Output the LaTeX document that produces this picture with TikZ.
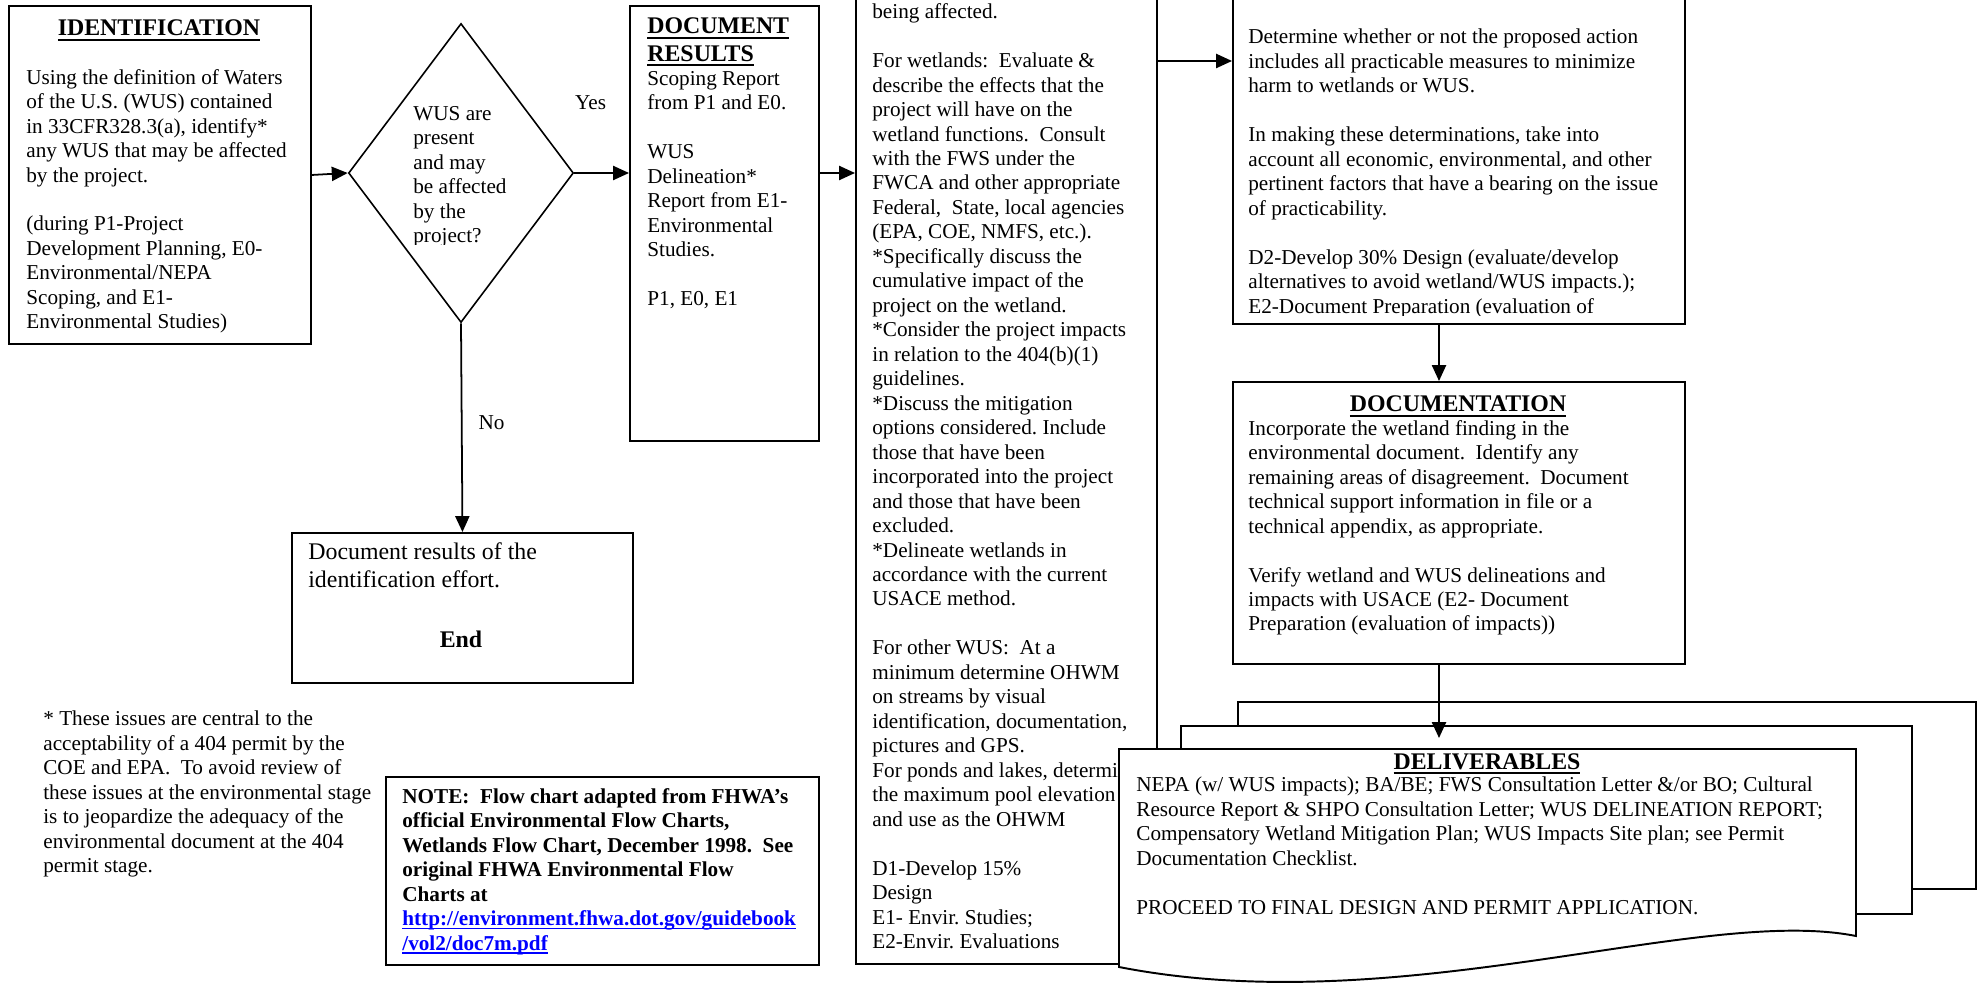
\documentclass[tikz,border=0pt]{standalone}
\usepackage{fontspec}
\setmainfont{Liberation Serif}
\usetikzlibrary{arrows.meta,shapes.geometric,positioning}
\definecolor{linkblue}{HTML}{0000FF}
\newcommand{\px}{0.566pt}
\newcommand{\hdline}[1]{\setbox0\hbox{#1}\leavevmode\rlap{\rule[-2.6pt]{\wd0}{1.1pt}}\box0}
\newcommand{\linkline}[1]{\setbox0\hbox{#1}\leavevmode\rlap{\rule[-2.2pt]{\wd0}{0.8pt}}\box0}

\begin{document}
\frenchspacing
\begin{tikzpicture}[
  x=\px,y=-\px,
  >={Triangle[length=9pt,width=8pt]},
  box/.style={draw,line width=1.1pt,fill=white,inner sep=0pt},
  sized/.style 2 args={minimum width=#1*\px,minimum height=#2*\px},
  txt/.style={align=left,inner sep=0pt,anchor=north west,execute at begin node=\strut,font=\fontsize{12}{13.85}\selectfont},
  bigtxt/.style={txt,font=\fontsize{13.5}{15.5}\selectfont},
  lbl/.style={inner sep=0pt,anchor=base west,font=\fontsize{12}{13.85}\selectfont},
  head/.style={inner sep=0pt,anchor=base,font=\fontsize{13.5}{15.5}\selectfont\bfseries},
  flow/.style={->,line width=1pt}
]
  \useasboundingbox (0,0) rectangle (1977,983);
  \clip (0,0) rectangle (1977,983);

  \node[box,sized={302}{338},anchor=north west] (ident) at (8,5) {};
  \node[head] (identhead) at (159,36) {\hdline{IDENTIFICATION}};
  \node[txt] (identtext) at (26,68.9) {Using the definition of Waters\\of the U.S. (WUS) contained\\in 33CFR328.3(a), identify*\\any WUS that may be affected\\by the project.\\[13.85pt](during P1-Project\\Development Planning, E0-\\Environmental/NEPA\\Scoping, and E1-\\Environmental Studies)};

  \node[draw,diamond,line width=0.9pt,inner sep=0pt,sized={225}{299}] (wus) at (461,173) {};
  \begin{scope}
    \clip (405,95) rectangle (570,245);
    \node[txt] (wustext) at (413,105.9) {WUS are\\present\\and may\\be affected\\by the\\project?};
  \end{scope}

  \node[box,sized={189}{435},anchor=north west] (docres) at (629,5) {};
  \node[txt,font=\fontsize{13.5}{15.5}\selectfont\bfseries] (docreshead) at (647,17.8) {\hdline{DOCUMENT}\\\hdline{RESULTS}};
  \node[txt] (docrestext) at (647,70.9) {Scoping Report\\from P1 and E0.\\[13.85pt]WUS\\Delineation*\\Report from E1-\\Environmental\\Studies.\\[13.85pt]P1, E0, E1};

  \node[box,sized={301}{1013},anchor=north west] (mid) at (855,-50) {};
  \node[txt] (midtext) at (872,3.4) {being affected.\\[13.85pt]For wetlands:~ Evaluate \&\\describe the effects that the\\project will have on the\\wetland functions.~ Consult\\with the FWS under the\\FWCA and other appropriate\\Federal,~ State, local agencies\\(EPA, COE, NMFS, etc.).\\*Specifically discuss the\\cumulative impact of the\\project on the wetland.\\*Consider the project impacts\\in relation to the 404(b)(1)\\guidelines.\\*Discuss the mitigation\\options considered. Include\\those that have been\\incorporated into the project\\and those that have been\\excluded.\\*Delineate wetlands in\\accordance with the current\\USACE method.\\[13.85pt]For other WUS:~ At a\\minimum determine OHWM\\on streams by visual\\identification, documentation,\\pictures and GPS.\\For ponds and lakes, determine\\the maximum pool elevation\\and use as the OHWM\\[13.85pt]D1-Develop 15\%\\Design\\E1- Envir. Studies;\\E2-Envir. Evaluations};

  \node[box,sized={452}{373},anchor=north west] (decide) at (1232,-50) {};
  \begin{scope}
    \clip (1236,0) rectangle (1680,316);
    \node[txt] (decidetext) at (1248,28.9) {Determine whether or not the proposed action\\includes all practicable measures to minimize\\harm to wetlands or WUS.\\[13.85pt]In making these determinations, take into\\account all economic, environmental, and other\\pertinent factors that have a bearing on the issue\\of practicability.\\[13.85pt]D2-Develop 30\% Design (evaluate/develop\\alternatives to avoid wetland/WUS impacts.);\\E2-Document Preparation (evaluation of};
  \end{scope}

  \node[box,sized={452}{282},anchor=north west] (documentation) at (1232,381) {};
  \node[head] (dochead) at (1458,412) {\hdline{DOCUMENTATION}};
  \node[txt] (doctext) at (1248,419.9) {Incorporate the wetland finding in the\\environmental document.~ Identify any\\remaining areas of disagreement.~ Document\\technical support information in file or a\\technical appendix, as appropriate.\\[13.85pt]Verify wetland and WUS delineations and\\impacts with USACE (E2- Document\\Preparation (evaluation of impacts))};

  \node[box,sized={341}{150},anchor=north west] (endbox) at (291,532) {};
  \node[bigtxt] (endtext) at (308,542.8) {Document results of the\\identification effort.};
  \node[head] (endlabel) at (461,647) {End};

  \node[txt] (footnote) at (43,710.9) {* These issues are central to the\\acceptability of a 404 permit by the\\COE and EPA.~ To avoid review of\\these issues at the environmental stage\\is to jeopardize the adequacy of the\\environmental document at the 404\\permit stage.};

  \node[box,sized={433}{188},anchor=north west] (note) at (385,776) {};
  \node[txt,font=\fontsize{12}{13.85}\selectfont\bfseries] (notetext) at (402,787.9) {NOTE:~ Flow chart adapted from FHWA’s\\official Environmental Flow Charts,\\Wetlands Flow Chart, December 1998.~ See\\original FHWA Environmental Flow\\Charts at\\\textcolor{linkblue}{\linkline{http://environment.fhwa.dot.gov/guidebook}}\\\textcolor{linkblue}{\linkline{/vol2/doc7m.pdf}}};

  \node[box,sized={738}{187},anchor=north west] (dlvback) at (1237,701) {};
  \node[box,sized={731}{188},anchor=north west] (dlvmid) at (1180,725) {};
  \draw[line width=1.1pt,fill=white] (1119,749) -- (1856,749) -- (1856,936)
    .. controls (1700,905) and (1400,1022) .. (1119,967) -- cycle;
  \node[head] (dlvhead) at (1487,769) {\hdline{DELIVERABLES}};
  \node[txt] (dlvtext) at (1136,776.9) {NEPA (w/ WUS impacts); BA/BE; FWS Consultation Letter \&/or BO; Cultural\\Resource Report \& SHPO Consultation Letter; WUS DELINEATION REPORT;\\Compensatory Wetland Mitigation Plan; WUS Impacts Site plan; see Permit\\Documentation Checklist.\\[13.85pt]PROCEED TO FINAL DESIGN AND PERMIT APPLICATION.};
  \coordinate (dlvtip) at (1439,738);
  \coordinate (hook) at (1190,61);

  \draw[flow] (ident.east) -- (wus.west);
  \draw[flow] (wus.east) -- node[lbl,pos=0,yshift=36.2pt]{Yes} (wus.east -| docres.west);
  \draw[flow] (docres.east |- wus.east) -- (mid.west |- wus.east);
  \draw[flow] (mid.east |- hook) -- (decide.west |- hook);
  \draw[flow] (decide.south -| dlvtip) -- (documentation.north -| dlvtip);
  \draw[flow] (documentation.south -| dlvtip) -- (dlvtip);
  \draw[flow] (wus.south) -- node[lbl,pos=0.51,xshift=9pt]{No} (endbox.north);
\end{tikzpicture}
\end{document}
